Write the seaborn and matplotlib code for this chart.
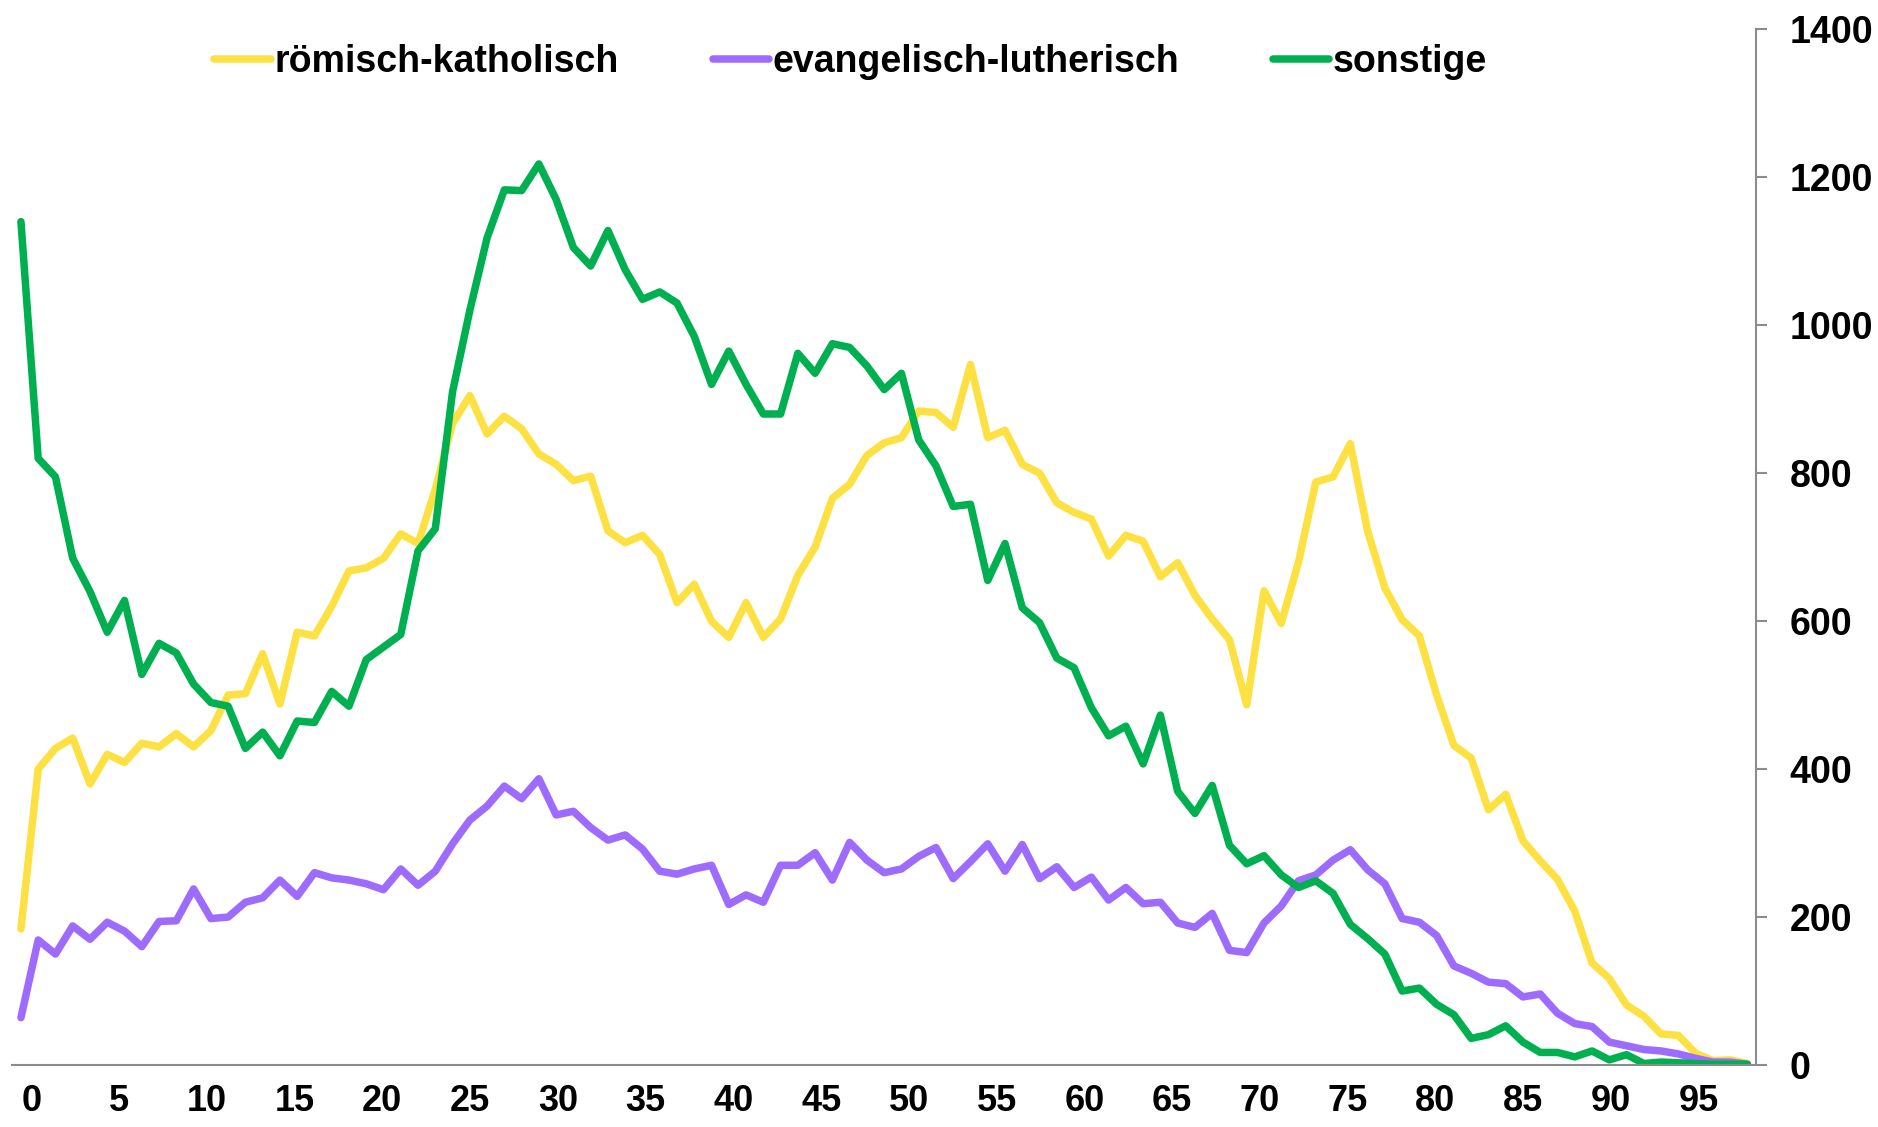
import pandas as pd
import seaborn as sns
import matplotlib.pyplot as plt

# Altersverteilung nach Konfession (Alter 0..100)
ages = list(range(101))

roemisch = [184, 400, 428, 442, 380, 420, 409, 435, 430, 448,
            430, 452, 500, 502, 556, 488, 585, 580, 620, 668,
            672, 685, 718, 705, 778, 867, 905, 853, 877, 860,
            826, 812, 790, 796, 722, 706, 716, 690, 625, 650,
            600, 578, 625, 578, 603, 662, 700, 766, 785, 824,
            841, 848, 884, 882, 862, 947, 848, 858, 812, 800,
            760, 747, 738, 688, 716, 708, 660, 679, 635, 603,
            575, 487, 641, 597, 680, 788, 795, 840, 722, 645,
            602, 580, 500, 432, 415, 345, 366, 303, 276, 251,
            208, 138, 117, 81, 66, 42, 40, 16, 6, 7,
            2]

evangelisch = [64, 169, 150, 188, 170, 193, 181, 160, 194, 195,
               238, 198, 200, 220, 226, 250, 228, 260, 253, 250,
               245, 237, 265, 243, 262, 299, 331, 350, 377, 360,
               387, 338, 343, 321, 304, 311, 292, 262, 258, 265,
               270, 217, 230, 220, 270, 270, 287, 250, 301, 277,
               260, 265, 282, 294, 252, 275, 299, 262, 298, 252,
               268, 240, 254, 223, 240, 218, 220, 192, 186, 205,
               155, 152, 192, 215, 249, 257, 277, 291, 264, 245,
               198, 193, 175, 134, 124, 112, 110, 92, 96, 70,
               56, 52, 31, 26, 21, 19, 15, 9, 4, 4,
               1]

sonstige = [1140, 820, 795, 685, 640, 585, 628, 528, 570, 557,
            515, 490, 485, 428, 450, 418, 465, 463, 505, 485,
            548, 565, 582, 695, 725, 910, 1020, 1118, 1183, 1182,
            1218, 1170, 1105, 1080, 1128, 1075, 1035, 1045, 1030, 985,
            920, 965, 920, 880, 880, 962, 935, 975, 970, 945,
            913, 935, 845, 810, 755, 758, 655, 705, 618, 598,
            550, 537, 483, 445, 458, 407, 473, 370, 340, 378,
            297, 272, 283, 257, 240, 249, 232, 190, 171, 150,
            100, 104, 82, 68, 36, 41, 53, 31, 17, 17,
            11, 19, 7, 14, 2, 4, 3, 2, 1, 1,
            1]

series = ["römisch-katholisch", "evangelisch-lutherisch", "sonstige"]
colors = ["#FDE143", "#9E6BFF", "#00B050"]
x_labels = list(range(0, 100, 5))
y_ticks = list(range(0, 1401, 200))

df = pd.DataFrame({
    "Alter": ages * 3,
    "Anzahl": roemisch + evangelisch + sonstige,
    "Konfession": [series[0]] * 101 + [series[1]] * 101 + [series[2]] * 101,
})

sns.set_style("white")
plt.rcParams["font.family"] = ["Liberation Sans", "DejaVu Sans"]
plt.rcParams["font.weight"] = "bold"
plt.rcParams["text.color"] = "black"
plt.rcParams["xtick.labelcolor"] = "black"
plt.rcParams["ytick.labelcolor"] = "black"

fig = plt.figure(figsize=(18.78, 11.27), dpi=100)
ax = fig.add_axes([0.00655, 0.0550, 0.9285, 0.919])

sns.lineplot(data=df, x="Alter", y="Anzahl", hue="Konfession",
             hue_order=series, palette=colors, linewidth=5.4,
             legend=False, ax=ax,
             solid_joinstyle="round", solid_capstyle="round")

ax.set_xlim(-0.5, 100.5)
ax.set_ylim(0, 1400)
ax.set_xlabel("")
ax.set_ylabel("")

gray = "#8C8C8C"
for side in ["left", "top"]:
    ax.spines[side].set_visible(False)
for side in ["right", "bottom"]:
    ax.spines[side].set_color(gray)
    ax.spines[side].set_linewidth(1.5)

# y-Achse rechts
ax.yaxis.tick_right()
ax.set_yticks(y_ticks)
ax.set_yticklabels([str(v) for v in y_ticks])
ax.tick_params(axis="y", which="major", direction="out", length=8,
               width=1.5, color=gray, pad=16, labelsize=27)

# x-Achse: Teilstriche zwischen den Kategorien, Beschriftung alle 5 Jahre
ax.set_xticks([a + 0.6 + a / 60 for a in x_labels])
ax.set_xticklabels([str(a) for a in x_labels])
ax.set_xticks([b - 0.5 for b in range(102)], minor=True)
ax.tick_params(axis="x", which="major", length=0, pad=14, labelsize=26)
ax.tick_params(axis="x", which="minor", direction="out", length=7,
               width=1.5, color=gray)
for lab in ax.get_xticklabels() + ax.get_yticklabels():
    lab.set_fontweight("bold")

leg = ax.legend(ax.lines[:3], series, loc="center", ncol=3, frameon=False,
                bbox_to_anchor=(0.4531, 0.9453), bbox_transform=fig.transFigure,
                prop={"size": 27, "weight": "bold"},
                handlelength=1.5, handletextpad=0.1, columnspacing=2.5)

fig.savefig("out.png", dpi=100)
